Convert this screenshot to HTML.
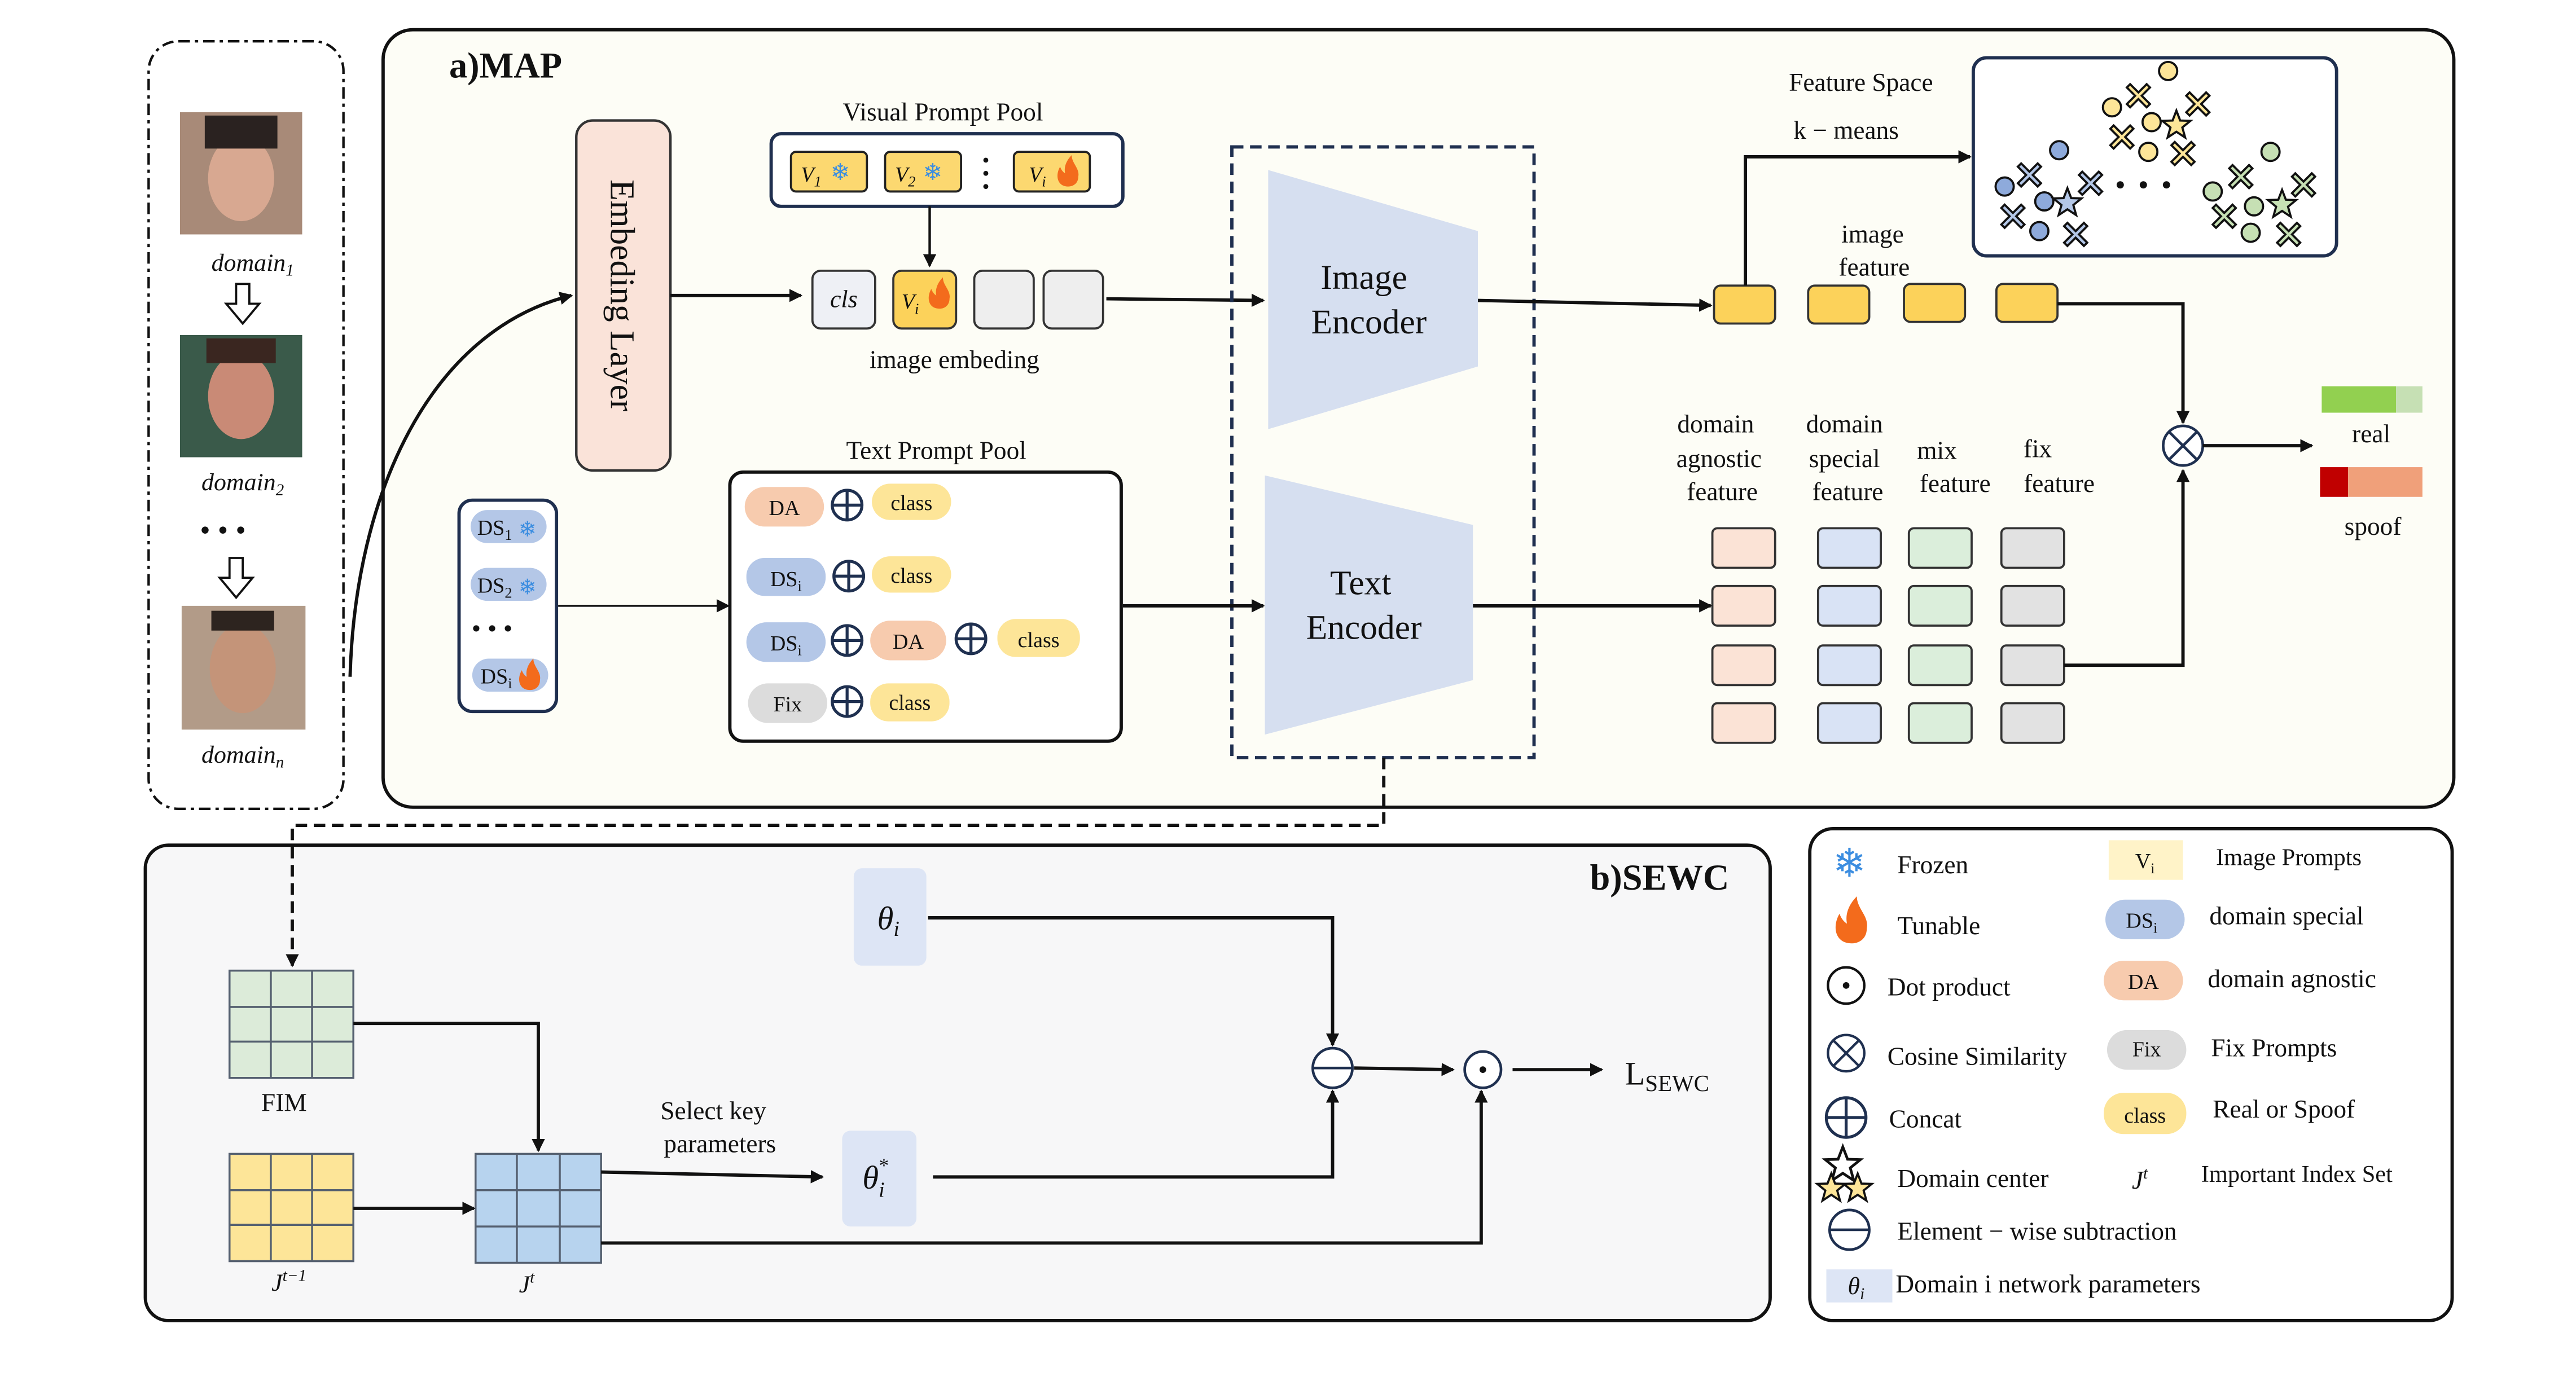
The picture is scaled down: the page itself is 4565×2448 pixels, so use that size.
<!DOCTYPE html>
<html><head><meta charset="utf-8"><style>
html,body{margin:0;padding:0;background:#fff;width:4565px;height:2448px;overflow:hidden}
svg{display:block}
text{font-family:"Liberation Serif",serif;fill:#111}
</style></head><body>
<svg width="4565" height="2448" viewBox="0 0 1560 836.6" preserveAspectRatio="none" xmlns="http://www.w3.org/2000/svg">
<defs>
<marker id="ah" markerWidth="8" markerHeight="8" refX="7" refY="4" orient="auto" markerUnits="userSpaceOnUse"><path d="M0,0 L8,4 L0,8 z" fill="#111"/></marker>
<path id="xm" d="M-5,-7 L0,-2 L5,-7 L7,-5 L2,0 L7,5 L5,7 L0,2 L-5,7 L-7,5 L-2,0 L-7,-5 z" stroke="#111" stroke-width="1.3"/>
<path id="st" d="M0,-9 L2.3,-3 L8.5,-2.8 L3.6,1.2 L5.3,7.3 L0,3.8 L-5.3,7.3 L-3.6,1.2 L-8.5,-2.8 L-2.3,-3 z" stroke="#111" stroke-width="1.3"/>
<g id="plus"><circle r="9" fill="none" stroke="#1f3050" stroke-width="1.8"/><path d="M-9,0H9M0,-9V9" stroke="#1f3050" stroke-width="1.8"/></g>
<path id="flame" d="M0,9 C-7,9 -8,2 -5,-3 C-4,0 -2,1 -2,1 C-3,-4 0,-8 2,-10 C2,-5 7,-2 6,3 C6,7 3,9 0,9 z" fill="#f36b1c"/>
</defs>

<rect x="90" y="25" width="118" height="465" rx="18" fill="#fff" stroke="#111" stroke-width="1.5" stroke-dasharray="7,3,2,3"/>
<rect x="109" y="68" width="74" height="74" fill="#a88a78"/><ellipse cx="146" cy="108" rx="20" ry="26" fill="#d8a891"/><rect x="124" y="70" width="44" height="20" fill="#2a2220"/>
<rect x="109" y="203" width="74" height="74" fill="#3a5a4a"/><ellipse cx="146" cy="240" rx="20" ry="26" fill="#c98a76"/><rect x="125" y="205" width="42" height="15" fill="#3a2620"/>
<rect x="110" y="367" width="75" height="75" fill="#b29b88"/><ellipse cx="147" cy="405" rx="20" ry="27" fill="#c49479"/><rect x="128" y="370" width="38" height="12" fill="#2d241f"/>
<text x="153" y="164" font-size="15" font-style="italic" text-anchor="middle">domain<tspan font-size="10" dy="3">1</tspan></text>
<text x="147" y="297" font-size="15" font-style="italic" text-anchor="middle">domain<tspan font-size="10" dy="3">2</tspan></text>
<text x="147" y="462" font-size="15" font-style="italic" text-anchor="middle">domain<tspan font-size="10" dy="3">n</tspan></text>
<path d="M143,172 h8 v12 h6 l-10,12 l-10,-12 h6 z" fill="#fff" stroke="#111" stroke-width="1.3"/>
<path d="M139,338 h8 v12 h6 l-10,12 l-10,-12 h6 z" fill="#fff" stroke="#111" stroke-width="1.3"/>
<text x="135" y="327" font-size="18" text-anchor="middle">• • •</text>

<rect x="232" y="18" width="1254" height="471" rx="18" fill="#fdfdf6" stroke="#111" stroke-width="2"/>
<text x="272" y="47" font-size="22" font-weight="bold">a)MAP</text>
<path d="M212,410 C215,300 260,200 346,179" fill="none" stroke="#111" stroke-width="2" marker-end="url(#ah)"/>

<rect x="349" y="73" width="57" height="212" rx="10" fill="#fae3d9" stroke="#333" stroke-width="1.5"/>
<text x="0" y="0" font-size="21" text-anchor="middle" transform="translate(370,179) rotate(90)">Embeding Layer</text>
<line x1="406" y1="179" x2="485" y2="179" stroke="#111" stroke-width="2" marker-end="url(#ah)"/>

<text x="571" y="73" font-size="15.5" text-anchor="middle">Visual Prompt Pool</text>
<rect x="467" y="81" width="213" height="44" rx="6" fill="#fff" stroke="#1f2f4f" stroke-width="2"/>
<rect x="479" y="92" width="46" height="24" rx="3" fill="#fcd870" stroke="#222" stroke-width="1.3"/>
<text x="485" y="110" font-size="13" font-style="italic">V<tspan font-size="9" dy="3">1</tspan></text><text x="503" y="109" font-size="14" style="fill:#3b8de0;font-family:'DejaVu Sans'">❄</text>
<rect x="536" y="92" width="46" height="24" rx="3" fill="#fcd870" stroke="#222" stroke-width="1.3"/>
<text x="542" y="110" font-size="13" font-style="italic">V<tspan font-size="9" dy="3">2</tspan></text><text x="559" y="109" font-size="14" style="fill:#3b8de0;font-family:'DejaVu Sans'">❄</text>
<circle cx="597" cy="97" r="1.5" fill="#111"/><circle cx="597" cy="105" r="1.5" fill="#111"/><circle cx="597" cy="113" r="1.5" fill="#111"/>
<rect x="614" y="92" width="46" height="24" rx="3" fill="#fcd870" stroke="#222" stroke-width="1.3"/>
<text x="623" y="110" font-size="13" font-style="italic">V<tspan font-size="9" dy="3">i</tspan></text><use href="#flame" x="647" y="104"/>
<line x1="563" y1="125" x2="563" y2="161" stroke="#111" stroke-width="1.5" marker-end="url(#ah)"/>

<rect x="492" y="164" width="38" height="35" rx="5" fill="#eef0f5" stroke="#333" stroke-width="1.3"/>
<text x="511" y="186" font-size="15" font-style="italic" text-anchor="middle">cls</text>
<rect x="541" y="164" width="38" height="35" rx="5" fill="#fcd25a" stroke="#333" stroke-width="1.3"/>
<text x="546" y="187" font-size="13" font-style="italic">V<tspan font-size="9" dy="3">i</tspan></text><use href="#flame" x="569" y="178"/>
<rect x="590" y="164" width="36" height="35" rx="5" fill="#eeeeee" stroke="#333" stroke-width="1.3"/>
<rect x="632" y="164" width="36" height="35" rx="5" fill="#eeeeee" stroke="#333" stroke-width="1.3"/>
<text x="578" y="223" font-size="15.5" text-anchor="middle">image embeding</text>
<line x1="670" y1="181" x2="765" y2="182" stroke="#111" stroke-width="2" marker-end="url(#ah)"/>

<rect x="746" y="89" width="183" height="370" fill="none" stroke="#1f2f4f" stroke-width="2" stroke-dasharray="7,4"/>
<polygon points="768,103 895,140 895,222 768,260" fill="#d6dff0"/>
<text x="826" y="175" font-size="21" text-anchor="middle">Image</text><text x="829" y="202" font-size="21" text-anchor="middle">Encoder</text>
<polygon points="766,288 892,318 892,412 766,445" fill="#d6dff0"/>
<text x="824" y="360" font-size="21" text-anchor="middle">Text</text><text x="826" y="387" font-size="21" text-anchor="middle">Encoder</text>
<line x1="895" y1="182" x2="1036" y2="185" stroke="#111" stroke-width="2" marker-end="url(#ah)"/>

<g fill="#fcd25a" stroke="#333" stroke-width="1.3">
<rect x="1038" y="173" width="37" height="23" rx="4"/><rect x="1095" y="173" width="37" height="23" rx="4"/><rect x="1153" y="172" width="37" height="23" rx="4"/><rect x="1209" y="172" width="37" height="23" rx="4"/>
</g>
<text x="1134" y="147" font-size="15.5" text-anchor="middle">image</text><text x="1135" y="167" font-size="15.5" text-anchor="middle">feature</text>
<polyline points="1057,173 1057,95 1193,95" fill="none" stroke="#111" stroke-width="2" marker-end="url(#ah)"/>
<text x="1127" y="55" font-size="15.5" text-anchor="middle">Feature Space</text>
<text x="1118" y="84" font-size="15.5" text-anchor="middle">k − means</text>
<rect x="1195" y="35" width="220" height="120" rx="8" fill="#fff" stroke="#1f2f4f" stroke-width="2"/>
<g stroke="#111" stroke-width="1.3">
<g fill="#fde598"><circle cx="1313" cy="43" r="5.5"/><circle cx="1279" cy="65" r="5.5"/><circle cx="1303" cy="74" r="5.5"/><circle cx="1301" cy="92" r="5.5"/></g>
<g fill="#8eaadb"><circle cx="1247" cy="91" r="5.5"/><circle cx="1214" cy="113" r="5.5"/><circle cx="1238" cy="122" r="5.5"/><circle cx="1235" cy="140" r="5.5"/></g>
<g fill="#c6e0b4"><circle cx="1375" cy="92" r="5.5"/><circle cx="1340" cy="116" r="5.5"/><circle cx="1365" cy="125" r="5.5"/><circle cx="1363" cy="141" r="5.5"/></g>
</g>
<g fill="#fde598"><use href="#xm" x="1295" y="58"/><use href="#xm" x="1331" y="63"/><use href="#xm" x="1285" y="83"/><use href="#xm" x="1322" y="93"/><use href="#st" x="1318" y="76"/></g>
<g fill="#b4c7e7"><use href="#xm" x="1229" y="106"/><use href="#xm" x="1266" y="111"/><use href="#xm" x="1219" y="131"/><use href="#xm" x="1257" y="142"/><use href="#st" x="1252" y="123"/></g>
<g fill="#c6e0b4"><use href="#xm" x="1357" y="107"/><use href="#xm" x="1395" y="112"/><use href="#xm" x="1347" y="131"/><use href="#xm" x="1386" y="142"/><use href="#st" x="1382" y="124"/></g>
<circle cx="1284" cy="112" r="2.2" fill="#111"/><circle cx="1298" cy="112" r="2.2" fill="#111"/><circle cx="1312" cy="112" r="2.2" fill="#111"/>

<polyline points="1246,184 1322,184 1322,256" fill="none" stroke="#111" stroke-width="2" marker-end="url(#ah)"/>
<circle cx="1322" cy="270" r="12" fill="#fff" stroke="#1f3050" stroke-width="1.6"/><path d="M1313.5,261.5 L1330.5,278.5 M1330.5,261.5 L1313.5,278.5" stroke="#1f3050" stroke-width="1.6"/>
<line x1="1334" y1="270" x2="1400" y2="270" stroke="#111" stroke-width="2" marker-end="url(#ah)"/>
<rect x="1406" y="234" width="45" height="16" fill="#92d050"/><rect x="1451" y="234" width="16" height="16" fill="#c6e0b4"/>
<text x="1436" y="268" font-size="15.5" text-anchor="middle">real</text>
<rect x="1405" y="283" width="17" height="18" fill="#c00000"/><rect x="1422" y="283" width="45" height="18" fill="#f0a07a"/>
<text x="1437" y="324" font-size="15.5" text-anchor="middle">spoof</text>

<g font-size="15.5" text-anchor="middle">
<text x="1039" y="262">domain</text><text x="1041" y="283">agnostic</text><text x="1043" y="303">feature</text>
<text x="1117" y="262">domain</text><text x="1117" y="283">special</text><text x="1119" y="303">feature</text>
<text x="1173" y="278">mix</text><text x="1184" y="298">feature</text>
<text x="1234" y="277">fix</text><text x="1247" y="298">feature</text>
</g>
<g stroke="#333" stroke-width="1.3">
<g fill="#fbe3d6"><rect x="1037" y="320" width="38" height="24" rx="3"/><rect x="1037" y="355" width="38" height="24" rx="3"/><rect x="1037" y="391" width="38" height="24" rx="3"/><rect x="1037" y="426" width="38" height="24" rx="3"/></g>
<g fill="#d9e3f5"><rect x="1101" y="320" width="38" height="24" rx="3"/><rect x="1101" y="355" width="38" height="24" rx="3"/><rect x="1101" y="391" width="38" height="24" rx="3"/><rect x="1101" y="426" width="38" height="24" rx="3"/></g>
<g fill="#dbeedb"><rect x="1156" y="320" width="38" height="24" rx="3"/><rect x="1156" y="355" width="38" height="24" rx="3"/><rect x="1156" y="391" width="38" height="24" rx="3"/><rect x="1156" y="426" width="38" height="24" rx="3"/></g>
<g fill="#e2e2e2"><rect x="1212" y="320" width="38" height="24" rx="3"/><rect x="1212" y="355" width="38" height="24" rx="3"/><rect x="1212" y="391" width="38" height="24" rx="3"/><rect x="1212" y="426" width="38" height="24" rx="3"/></g>
</g>
<polyline points="1250,403 1322,403 1322,285" fill="none" stroke="#111" stroke-width="2" marker-end="url(#ah)"/>
<line x1="892" y1="367" x2="1036" y2="367" stroke="#111" stroke-width="2" marker-end="url(#ah)"/>

<rect x="278" y="303" width="59" height="128" rx="8" fill="#fff" stroke="#1f2f4f" stroke-width="2"/>
<g fill="#b4c7e7"><rect x="285" y="309" width="46" height="20" rx="10"/><rect x="285" y="344" width="46" height="20" rx="10"/><rect x="286" y="399" width="46" height="20" rx="10"/></g>
<text x="289" y="324" font-size="13">DS<tspan font-size="9" dy="3">1</tspan></text><text x="314" y="325" font-size="13" style="fill:#3b8de0;font-family:'DejaVu Sans'">❄</text>
<text x="289" y="359" font-size="13">DS<tspan font-size="9" dy="3">2</tspan></text><text x="314" y="360" font-size="13" style="fill:#3b8de0;font-family:'DejaVu Sans'">❄</text>
<text x="291" y="414" font-size="13">DS<tspan font-size="9" dy="3">i</tspan></text><use href="#flame" x="321" y="409"/>
<text x="298" y="386" font-size="16" text-anchor="middle">• • •</text>
<line x1="338" y1="367" x2="441" y2="367" stroke="#111" stroke-width="1.2" marker-end="url(#ah)"/>

<text x="567" y="278" font-size="15.5" text-anchor="middle">Text Prompt Pool</text>
<rect x="442" y="286" width="237" height="163" rx="8" fill="#fff" stroke="#111" stroke-width="2"/>
<g font-size="13" text-anchor="middle">
<rect x="451" y="295" width="48" height="24" rx="12" fill="#f7cbae"/><text x="475" y="312">DA</text>
<use href="#plus" x="513" y="306"/>
<rect x="528" y="293" width="48" height="22" rx="11" fill="#fde598"/><text x="552" y="309">class</text>
<rect x="452" y="338" width="48" height="23" rx="11" fill="#b4c7e7"/><text x="476" y="355">DS<tspan font-size="9" dy="3">i</tspan></text>
<use href="#plus" x="514" y="349"/>
<rect x="528" y="337" width="48" height="22" rx="11" fill="#fde598"/><text x="552" y="353">class</text>
<rect x="452" y="377" width="48" height="24" rx="12" fill="#b4c7e7"/><text x="476" y="394">DS<tspan font-size="9" dy="3">i</tspan></text>
<use href="#plus" x="513" y="388"/>
<rect x="527" y="376" width="46" height="24" rx="12" fill="#f7cbae"/><text x="550" y="393">DA</text>
<use href="#plus" x="588" y="387"/>
<rect x="604" y="375" width="50" height="23" rx="11" fill="#fde598"/><text x="629" y="392">class</text>
<rect x="453" y="414" width="48" height="24" rx="12" fill="#dcdcdc"/><text x="477" y="431">Fix</text>
<use href="#plus" x="513" y="425"/>
<rect x="527" y="414" width="48" height="23" rx="11" fill="#fde598"/><text x="551" y="430">class</text>
</g>
<line x1="680" y1="367" x2="765" y2="367" stroke="#111" stroke-width="2" marker-end="url(#ah)"/>

<rect x="88" y="512" width="984" height="288" rx="14" fill="#f7f7f8" stroke="#111" stroke-width="2"/>
<polyline points="838,459 838,500 177,500 177,585" fill="none" stroke="#111" stroke-width="2" stroke-dasharray="7,4" marker-end="url(#ah)"/>
<text x="1005" y="539" font-size="22" font-weight="bold" text-anchor="middle">b)SEWC</text>

<rect x="517" y="526" width="44" height="59" rx="5" fill="#dde5f5"/>
<text x="538" y="563" font-size="20" font-style="italic" text-anchor="middle">θ<tspan font-size="13" dy="4">i</tspan></text>
<polyline points="562,556 807,556 807,633" fill="none" stroke="#111" stroke-width="2" marker-end="url(#ah)"/>
<circle cx="807" cy="647" r="12" fill="#fff" stroke="#1f3050" stroke-width="1.6"/><line x1="795" y1="647" x2="819" y2="647" stroke="#1f3050" stroke-width="1.6"/>

<g stroke="#556070" stroke-width="1.2">
<rect x="139" y="588" width="75" height="65" fill="#dcebd9"/><path d="M164,588V653M189,588V653M139,610H214M139,631H214"/>
<rect x="139" y="699" width="75" height="65" fill="#fde598"/><path d="M164,699V764M189,699V764M139,721H214M139,742H214"/>
<rect x="288" y="699" width="76" height="66" fill="#b7d3ee"/><path d="M313,699V765M339,699V765M288,721H364M288,743H364"/>
</g>
<text x="172" y="673" font-size="15.5" text-anchor="middle">FIM</text>
<text x="175" y="782" font-size="15" font-style="italic" text-anchor="middle">J<tspan font-size="10" dy="-6">t−1</tspan></text>
<text x="319" y="783" font-size="15" font-style="italic" text-anchor="middle">J<tspan font-size="10" dy="-6">t</tspan></text>
<polyline points="214,620 326,620 326,697" fill="none" stroke="#111" stroke-width="2" marker-end="url(#ah)"/>
<line x1="214" y1="732" x2="287" y2="732" stroke="#111" stroke-width="2" marker-end="url(#ah)"/>
<line x1="364" y1="710" x2="498" y2="713" stroke="#111" stroke-width="2" marker-end="url(#ah)"/>
<text x="432" y="678" font-size="15.5" text-anchor="middle">Select key</text><text x="436" y="698" font-size="15.5" text-anchor="middle">parameters</text>
<rect x="510" y="685" width="45" height="58" rx="5" fill="#dde5f5"/>
<text x="530" y="720" font-size="20" font-style="italic" text-anchor="middle">θ<tspan font-size="13" dy="5">i</tspan><tspan font-size="12" dx="-4" dy="-15">*</tspan></text>
<polyline points="565,713 807,713 807,661" fill="none" stroke="#111" stroke-width="2" marker-end="url(#ah)"/>
<polyline points="364,753 897,753 897,661" fill="none" stroke="#111" stroke-width="2" marker-end="url(#ah)"/>
<line x1="820" y1="647" x2="880" y2="648" stroke="#111" stroke-width="2" marker-end="url(#ah)"/>
<circle cx="898" cy="648" r="11" fill="#fff" stroke="#1f3050" stroke-width="1.6"/><circle cx="898" cy="648" r="2" fill="#111"/>
<line x1="916" y1="648" x2="970" y2="648" stroke="#111" stroke-width="2" marker-end="url(#ah)"/>
<text x="984" y="657" font-size="20">L<tspan font-size="14" dy="4">SEWC</tspan></text>

<rect x="1096" y="502" width="389" height="298" rx="14" fill="#fff" stroke="#111" stroke-width="2"/>
<g font-size="15.5">
<text x="1120" y="531" font-size="24" text-anchor="middle" style="fill:#3b8de0;font-family:'DejaVu Sans'">❄</text><text x="1149" y="529">Frozen</text>
<use href="#flame" x="1121" y="558" transform="translate(-560,-279) scale(1.5)"/><text x="1149" y="566">Tunable</text>
<circle cx="1118" cy="597" r="11" fill="none" stroke="#111" stroke-width="1.5"/><circle cx="1118" cy="597" r="2" fill="#111"/><text x="1143" y="603">Dot product</text>
<circle cx="1118" cy="638" r="11" fill="none" stroke="#1f3050" stroke-width="1.5"/><path d="M1110,630L1126,646M1126,630L1110,646" stroke="#1f3050" stroke-width="1.5"/><text x="1143" y="645">Cosine Similarity</text>
<circle cx="1118" cy="677" r="12" fill="none" stroke="#1f3050" stroke-width="1.8"/><path d="M1106,677H1130M1118,665V689" stroke="#1f3050" stroke-width="1.8"/><text x="1144" y="683">Concat</text>
<g fill="#fff"><use href="#st" x="1116" y="706" transform="translate(-279,-176.5) scale(1.25)"/></g>
<g fill="#fde598"><use href="#st" x="1109" y="720"/><use href="#st" x="1125" y="720"/></g>
<text x="1149" y="719">Domain center</text>
<circle cx="1120" cy="745" r="12" fill="none" stroke="#1f3050" stroke-width="1.6"/><line x1="1108" y1="745" x2="1132" y2="745" stroke="#1f3050" stroke-width="1.6"/><text x="1149" y="751">Element − wise subtraction</text>
<rect x="1106" y="769" width="40" height="20" fill="#dde5f5"/><text x="1119" y="784" font-style="italic" font-size="15">θ<tspan font-size="10" dy="3">i</tspan></text><text x="1148" y="783">Domain i network parameters</text>

<rect x="1277" y="509" width="45" height="24" fill="#fff3c8"/><text x="1299" y="526" font-size="13" text-anchor="middle">V<tspan font-size="9" dy="3">i</tspan></text><text x="1342" y="524" font-size="14.5">Image Prompts</text>
<rect x="1275" y="545" width="48" height="24" rx="12" fill="#b4c7e7"/><text x="1297" y="562" font-size="13" text-anchor="middle">DS<tspan font-size="9" dy="3">i</tspan></text><text x="1338" y="560">domain special</text>
<rect x="1274" y="582" width="48" height="24" rx="12" fill="#f7cbae"/><text x="1298" y="599" font-size="13" text-anchor="middle">DA</text><text x="1337" y="598">domain agnostic</text>
<rect x="1276" y="624" width="48" height="24" rx="12" fill="#dcdcdc"/><text x="1300" y="640" font-size="13" text-anchor="middle">Fix</text><text x="1339" y="640">Fix Prompts</text>
<rect x="1274" y="662" width="50" height="25" rx="12" fill="#fde598"/><text x="1299" y="680" font-size="13" text-anchor="middle">class</text><text x="1340" y="677">Real or Spoof</text>
<text x="1291" y="720" font-style="italic">J<tspan font-size="10" dy="-6">t</tspan></text><text x="1333" y="716" font-size="14.5">Important Index Set</text>
</g>
</svg>
</body></html>
